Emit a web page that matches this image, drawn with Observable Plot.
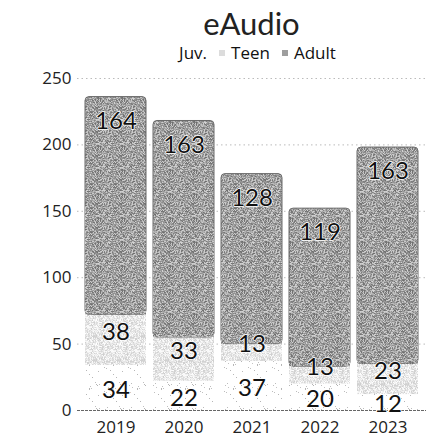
<!DOCTYPE html>
<html>
<head>
<meta charset="utf-8">
<script src="https://cdn.jsdelivr.net/npm/d3@7"></script>
<script src="https://cdn.jsdelivr.net/npm/@observablehq/plot@0.6"></script>
<style>
  html, body { margin: 0; padding: 0; background: #fff; }
  #wrap { width: 441px; font-family: "Open Sans", sans-serif; }
  .title { margin-left: 77px; width: 349px; text-align: center; font-family: "Lato", sans-serif; font-size: 31px; line-height: 34px; height: 37px; padding-top: 6px; color: #222; }
  .legend { margin-left: 77px; width: 349px; text-align: center; font-size: 17px; line-height: 20px; height: 19px; color: #111; }
  .legend span.item { margin: 0 6px; }
  .legend i { display: inline-block; width: 6px; height: 6px; margin-right: 6px; vertical-align: middle; position: relative; top: -1px; }
</style>
</head>
<body>
<div id="wrap">
  <div class="title" id="title"></div>
  <div class="legend" id="legend"></div>
  <div id="chart"></div>
</div>
<script>
const title = "eAudio";
const years = ["2019", "2020", "2021", "2022", "2023"];
const series = ["Juv.", "Teen", "Adult"];
const juv = [34, 22, 37, 20, 12];
const teen = [38, 33, 13, 13, 23];
const adult = [164, 163, 128, 119, 163];
const yTicks = [0, 50, 100, 150, 200, 250];
const swatchColors = ["#ffffff", "#dcdcdc", "#9e9e9e"];
const patternFills = ["url(#pJuv)", "url(#pTeen)", "url(#pAdult)"];

document.getElementById("title").textContent = title;
const leg = document.getElementById("legend");
series.forEach((s, i) => {
  const sp = document.createElement("span");
  sp.className = "item";
  const sw = document.createElement("i");
  sw.style.background = swatchColors[i];
  sp.appendChild(sw);
  sp.appendChild(document.createTextNode(s));
  leg.appendChild(sp);
});

// stacked rows
const valuesBySeries = [juv, teen, adult];
const rows = [];
years.forEach((yr, j) => {
  let base = 0;
  series.forEach((s, i) => {
    const v = valuesBySeries[i][j];
    rows.push({year: yr, series: s, value: v, y1: base, y2: base + v, mid: base + v / 2});
    base += v;
  });
});
const juvRows = rows.filter(d => d.series === "Juv.");
const teenRows = rows.filter(d => d.series === "Teen");
const adultRows = rows.filter(d => d.series === "Adult");

const labelStyle = {fontSize: 24, fontFamily: "Lato, sans-serif", fill: "#111", stroke: "white", strokeWidth: 1.5};

const chart = Plot.plot({
  width: 441,
  height: 378,
  marginTop: 16,
  marginBottom: 30,
  marginLeft: 77,
  marginRight: 15,
  style: {fontFamily: "Open Sans, sans-serif", color: "#222", background: "white"},
  x: {domain: years, padding: 0.1},
  y: {domain: [0, 250]},
  marks: [
    Plot.ruleY(yTicks.filter(t => t > 0), {stroke: "#bbb", strokeDasharray: "1.5,3"}),
    Plot.rectY(juvRows, {x: "year", y1: "y1", y2: "y2", fill: patternFills[0]}),
    Plot.rectY(teenRows, {x: "year", y1: "y1", y2: "y2", fill: patternFills[1]}),
    Plot.rectY(adultRows, {x: "year", y1: "y1", y2: "y2", fill: patternFills[2], rx: 4, stroke: "#6a6a6a", strokeWidth: 1}),
    Plot.rectY(adultRows, {x: "year", y1: "y1", y2: "mid", fill: patternFills[2]}),
    Plot.ruleY([0], {stroke: "#666", strokeDasharray: "3,1"}),
    Plot.axisX({label: null, tickSize: 0, tickPadding: 10, fontSize: 17, fill: "#222"}),
    Plot.axisY({ticks: yTicks, label: null, tickSize: 0, tickPadding: 6, fontSize: 17, fill: "#222"}),
    Plot.text(adultRows, {x: "year", y: "y2", text: "value", dy: 24, ...labelStyle}),
    Plot.text(teenRows, {x: "year", y: "mid", text: "value", dy: -8, ...labelStyle}),
    Plot.text(juvRows, {x: "year", y: "mid", text: "value", dy: 2, ...labelStyle})
  ]
});

// texture patterns (deterministic pseudo-noise)
function hash(i, seed) {
  let h = (i * 374761393 + seed * 668265263) | 0;
  h = (h ^ (h >>> 13)) * 1274126177 | 0;
  h = h ^ (h >>> 16);
  return ((h >>> 0) % 1000) / 1000;
}
const ns = "http://www.w3.org/2000/svg";
const defs = document.createElementNS(ns, "defs");
function makePattern(id, size, fn, seed) {
  const p = document.createElementNS(ns, "pattern");
  p.setAttribute("id", id);
  p.setAttribute("patternUnits", "userSpaceOnUse");
  p.setAttribute("width", size);
  p.setAttribute("height", size);
  for (let yy = 0; yy < size; yy++) {
    for (let xx = 0; xx < size; xx++) {
      const r = hash(yy * size + xx, seed);
      const g = fn(r);
      if (g === null) continue;
      const rect = document.createElementNS(ns, "rect");
      rect.setAttribute("x", xx);
      rect.setAttribute("y", yy);
      rect.setAttribute("width", 1);
      rect.setAttribute("height", 1);
      rect.setAttribute("fill", `rgb(${g},${g},${g})`);
      p.appendChild(rect);
    }
  }
  defs.appendChild(p);
}
makePattern("pAdult", 24, r => Math.round(110 + r * 105), 7);
makePattern("pTeen", 24, r => Math.round(205 + r * 50), 13);
makePattern("pJuv", 24, r => (r < 0.05 ? Math.round(180 + r * 400) : 255), 29);
chart.insertBefore(defs, chart.firstChild);

document.getElementById("chart").appendChild(chart);
</script>
</body>
</html>
